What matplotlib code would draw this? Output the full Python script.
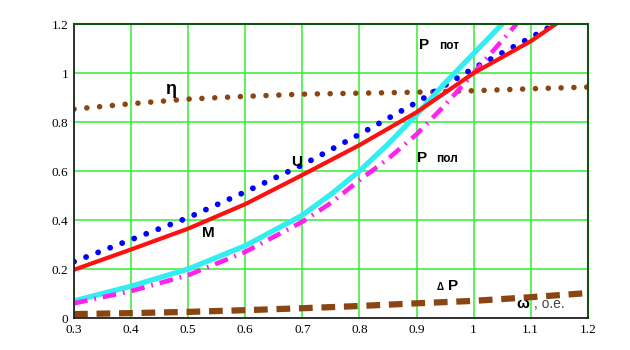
import numpy as np
from matplotlib import pyplot as plt

# ------------------------------ data ------------------------------------#
w = [0.3, 0.4, 0.5, 0.6, 0.7, 0.8, 0.9, 1.0, 1.1, 1.2]

eta = [0.853, 0.875, 0.894, 0.905, 0.914, 0.918, 0.922, 0.928, 0.936, 0.943]
dP = [0.016, 0.02, 0.025, 0.032, 0.04, 0.049, 0.06, 0.07, 0.085, 0.102]

w_u = [0.3, 0.4, 0.5, 0.6, 0.7, 0.8, 0.9, 1.0, 1.1, 1.15]
U = [0.23, 0.32, 0.41, 0.515, 0.625, 0.75, 0.88, 1.02, 1.145, 1.21]

w_m = [0.3, 0.4, 0.5, 0.6, 0.7, 0.8, 0.9, 1.0, 1.1, 1.15]
M = [0.197, 0.28, 0.365, 0.465, 0.584, 0.706, 0.84, 1.0, 1.13, 1.21]

w_pot = [0.3, 0.4, 0.5, 0.6, 0.7, 0.75, 0.8, 0.85, 0.9, 0.95, 1.0, 1.05]
P_pot = [0.07, 0.13, 0.2, 0.295, 0.42, 0.505, 0.60, 0.71, 0.83, 0.96, 1.08, 1.2]

w_pol = [0.3, 0.4, 0.5, 0.6, 0.7, 0.75, 0.8, 0.85, 0.9, 0.95, 1.0, 1.075]
P_pol = [0.06, 0.11, 0.175, 0.27, 0.393, 0.47, 0.563, 0.65, 0.75, 0.87, 1.0, 1.2]

xticks = [0.3, 0.4, 0.5, 0.6, 0.7, 0.8, 0.9, 1, 1.1, 1.2]
yticks = [0, 0.2, 0.4, 0.6, 0.8, 1, 1.2]

brown = "#8b4513"

# ------------------------------ plot ------------------------------------#
fig = plt.figure(figsize=(6.3, 3.5), dpi=100)
ax = fig.add_axes([0.1175, 0.0914, 0.8155, 0.8397])

ax.plot(w, eta, color=brown, lw=4.0, ls=(0, (0.01, 2.3)), dash_capstyle="round")
ax.plot(w, dP, color=brown, lw=4.5, ls=(0, (2.2, 1.4)))
ax.plot(w_u, U, color="#0000ff", lw=4.2, ls=(0, (0.01, 2.2)), dash_capstyle="round")
ax.plot(w_pot, P_pot, color="#33eef0", lw=3.8)
ax.plot(w_pol, P_pol, color="#ff22ee", lw=3.3, ls=(0, (3, 1.5, 0.4, 1.5)))
ax.plot(w_m, M, color="#ff1010", lw=3)

ax.set_xlim(0.3, 1.2)
ax.set_ylim(0, 1.2)
ax.set_xticks(xticks)
ax.set_yticks(yticks)
ax.set_xticklabels([f"{t:g}" for t in xticks], family="Liberation Serif", fontsize=9.5)
ax.set_yticklabels([f"{t:g}" for t in yticks], family="Liberation Serif", fontsize=9.5)
ax.tick_params(length=0, pad=4)
ax.grid(True, color="#33ee33", lw=1.1)
ax.set_axisbelow(True)
for side in ["left", "bottom"]:
    ax.spines[side].set_color("#222222")
    ax.spines[side].set_linewidth(1.3)
for side in ["top", "right"]:
    ax.spines[side].set_color("#115511")
    ax.spines[side].set_linewidth(1.5)

# curve labels
lab = dict(family="Liberation Sans", fontweight="bold", color="black")
ax.text(0.46, 0.915, "η", fontsize=13, **lab)
ax.text(0.68, 0.62, "U", fontsize=11, **lab)
ax.text(0.525, 0.33, "M", fontsize=11, **lab)
ax.text(0.905, 1.1, "P", fontsize=11, **lab)
ax.text(0.94, 1.1, "пот", fontsize=8.5, **lab)
ax.text(0.9, 0.635, "P", fontsize=11, **lab)
ax.text(0.935, 0.635, "пол", fontsize=8.5, **lab)
ax.text(0.935, 0.115, "Δ", fontsize=7, **lab)
ax.text(0.955, 0.115, "P", fontsize=11, **lab)
ax.text(1.075, 0.04, "ω", fontsize=11, **lab)
ax.text(1.105, 0.04, ", о.е.", fontsize=10, family="Liberation Sans", color="#444444")

fig.savefig("out.png", dpi=100)
